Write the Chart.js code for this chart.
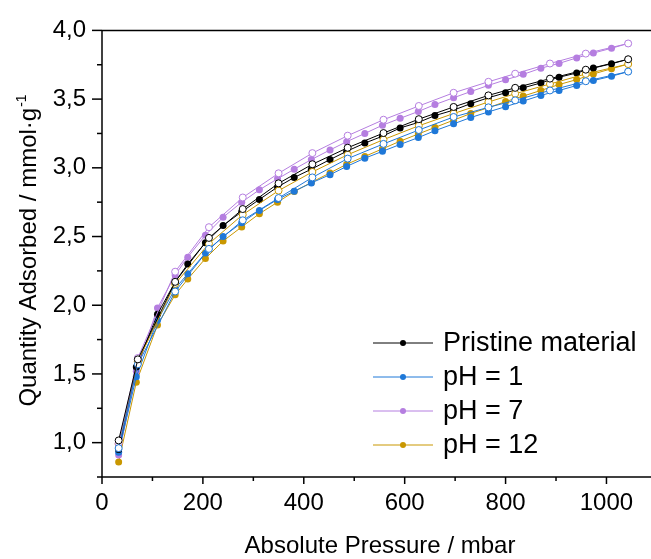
<!DOCTYPE html>
<html>
<head>
<meta charset="utf-8">
<script src="https://cdn.jsdelivr.net/npm/chart.js@4.4.1/dist/chart.umd.min.js"></script>
<style>
  html, body { margin: 0; padding: 0; background: #fff; overflow: hidden; }
  #wrap { width: 672px; height: 559px; }
</style>
</head>
<body>
<div id="wrap"><canvas id="isoChart" width="672" height="559"></canvas></div>
<script>
// Pressure points (mbar)
const adsPressure = [33, 68, 110, 145, 170, 205, 240, 277, 312, 348, 381, 415, 452, 485, 521,
  556, 591, 627, 660, 697, 731, 766, 800, 835, 870, 906, 941, 974, 1010, 1043];
const desPressure = [1043, 959, 888, 819, 766, 697, 628, 558, 487, 417, 350, 279, 212, 145, 71, 33];

// Quantity adsorbed (mmol/g) - adsorption branch (filled) and desorption branch (open)
const pristineAds = [0.95, 1.55, 1.935, 2.17, 2.30, 2.455, 2.58, 2.68, 2.77, 2.86, 2.93, 2.99, 3.06, 3.12, 3.18,
  3.23, 3.29, 3.33, 3.38, 3.42, 3.467, 3.51, 3.546, 3.582, 3.618, 3.659, 3.69, 3.726, 3.757, 3.79];
const pristineDes = [3.79, 3.714, 3.649, 3.582, 3.527, 3.443, 3.354, 3.253, 3.146, 3.026, 2.887, 2.70, 2.49, 2.17, 1.606, 1.016];

const ph1Ads = [0.93, 1.48, 1.89, 2.12, 2.23, 2.38, 2.50, 2.60, 2.69, 2.77, 2.83, 2.89, 2.95, 3.01, 3.07,
  3.12, 3.17, 3.22, 3.27, 3.32, 3.366, 3.407, 3.445, 3.486, 3.527, 3.563, 3.599, 3.635, 3.666, 3.70];
const ph1Des = [3.70, 3.63, 3.563, 3.491, 3.44, 3.37, 3.275, 3.174, 3.067, 2.93, 2.78, 2.618, 2.41, 2.10, 1.57, 0.96];

const ph7Ads = [0.91, 1.52, 1.98, 2.22, 2.35, 2.51, 2.64, 2.75, 2.84, 2.92, 2.99, 3.06, 3.13, 3.19, 3.25,
  3.31, 3.36, 3.41, 3.46, 3.51, 3.555, 3.60, 3.64, 3.68, 3.725, 3.76, 3.80, 3.835, 3.87, 3.905];
const ph7Des = [3.905, 3.831, 3.759, 3.685, 3.626, 3.546, 3.45, 3.35, 3.234, 3.107, 2.96, 2.784, 2.568, 2.244, 1.616, 0.995];

const ph12Ads = [0.86, 1.44, 1.856, 2.076, 2.19, 2.34, 2.467, 2.57, 2.666, 2.75, 2.827, 2.894, 2.963, 3.026, 3.083,
  3.138, 3.194, 3.246, 3.294, 3.347, 3.395, 3.438, 3.482, 3.522, 3.563, 3.606, 3.642, 3.683, 3.721, 3.755];
const ph12Des = [3.755, 3.683, 3.61, 3.539, 3.479, 3.395, 3.306, 3.205, 3.095, 2.97, 2.834, 2.659, 2.448, 2.155, 1.59, 0.99];

const seriesNames = ['Pristine material', 'pH = 1', 'pH = 7', 'pH = 12'];
const seriesColors = ['#000000', '#1f78d8', '#b57ee0', '#c99700'];

// Axis ticks
const xTicks = [0, 200, 400, 600, 800, 1000];
const xMinor = [100, 300, 500, 700, 900, 1100];
const yTicks = [1.0, 1.5, 2.0, 2.5, 3.0, 3.5, 4.0];
const yMinor = [0.75, 1.25, 1.75, 2.25, 2.75, 3.25, 3.75];

const FONT = "'Liberation Sans', Arial, sans-serif";

function pts(xs, ys) {
  return xs.map((x, i) => ({ x: x, y: ys[i] }));
}

const adsSets = [pristineAds, ph1Ads, ph7Ads, ph12Ads];
const desSets = [pristineDes, ph1Des, ph7Des, ph12Des];

let datasets = [];
adsSets.forEach((ys, i) => {
  datasets.push({
    label: seriesNames[i] + ' ads',
    data: pts(adsPressure, ys),
    showLine: true,
    borderColor: seriesColors[i],
    backgroundColor: seriesColors[i],
    borderWidth: 1,
    pointRadius: 3.5,
    pointBorderWidth: 0,
    pointBackgroundColor: seriesColors[i],
    order: 2
  });
});
desSets.forEach((ys, i) => {
  datasets.push({
    label: seriesNames[i] + ' des',
    data: pts(desPressure, ys),
    showLine: true,
    borderColor: seriesColors[i],
    backgroundColor: '#ffffff',
    borderWidth: 1,
    pointRadius: 3.5,
    pointBorderWidth: 1,
    pointBorderColor: seriesColors[i],
    pointBackgroundColor: '#ffffff',
    order: 1
  });
});

// Axes, ticks, titles and legend drawn on top
const decorations = {
  id: 'decorations',
  afterDraw(chart) {
    const { ctx, chartArea: a, scales: { x, y } } = chart;
    ctx.save();
    ctx.strokeStyle = '#000';
    ctx.lineWidth = 1.5;
    const seg = (x1, y1, x2, y2) => {
      ctx.beginPath(); ctx.moveTo(x1, y1); ctx.lineTo(x2, y2); ctx.stroke();
    };
    // frame: left, bottom, top
    seg(a.left, a.top, a.left, a.bottom);
    seg(a.left, a.bottom, a.right, a.bottom);
    seg(a.left, a.top, a.right, a.top);

    xTicks.forEach(v => { const px = x.getPixelForValue(v); seg(px, a.bottom, px, a.bottom + 7); });
    xMinor.forEach(v => { const px = x.getPixelForValue(v); seg(px, a.bottom, px, a.bottom + 4); });
    yTicks.forEach(v => { const py = y.getPixelForValue(v); seg(a.left - 10, py, a.left, py); });
    yMinor.forEach(v => { const py = y.getPixelForValue(v); seg(a.left - 5, py, a.left, py); });

    ctx.fillStyle = '#000';
    // x title
    ctx.font = '24px ' + FONT;
    ctx.textAlign = 'center';
    ctx.textBaseline = 'alphabetic';
    ctx.fillText('Absolute Pressure / mbar', 380, 553);

    // y title with superscript
    ctx.save();
    ctx.translate(36, 251);
    ctx.rotate(-Math.PI / 2);
    const main = 'Quantity Adsorbed / mmol\u00b7g';
    const sup = '-1';
    ctx.font = '24px ' + FONT;
    const wMain = ctx.measureText(main).width;
    ctx.font = '14px ' + FONT;
    const wSup = ctx.measureText(sup).width;
    const start = -(wMain + wSup) / 2;
    ctx.textAlign = 'left';
    ctx.font = '24px ' + FONT;
    ctx.fillText(main, start, 0);
    ctx.font = '14px ' + FONT;
    ctx.fillText(sup, start + wMain + 1, -10);
    ctx.restore();

    // legend
    ctx.font = '27px ' + FONT;
    ctx.textAlign = 'left';
    ctx.textBaseline = 'middle';
    seriesNames.forEach((name, i) => {
      const ly = 343 + i * 34;
      ctx.strokeStyle = seriesColors[i];
      ctx.lineWidth = 1;
      seg(373, ly, 433, ly);
      ctx.fillStyle = seriesColors[i];
      ctx.beginPath(); ctx.arc(403, ly, 3, 0, Math.PI * 2); ctx.fill();
      ctx.fillStyle = '#000';
      ctx.fillText(name, 443, ly + 1);
    });
    ctx.restore();
  }
};

Chart.defaults.color = '#000';
Chart.defaults.font.family = FONT;

const chart = new Chart(document.getElementById('isoChart').getContext('2d'), {
  type: 'scatter',
  data: { datasets: datasets },
  options: {
    responsive: false,
    animation: false,
    devicePixelRatio: 1,
    layout: { padding: { top: 25, left: 0, right: 0, bottom: 0 } },
    plugins: {
      legend: { display: false },
      tooltip: { enabled: false }
    },
    scales: {
      x: {
        type: 'linear',
        min: 0,
        max: 1120,
        grid: { display: false, drawTicks: false },
        border: { display: false },
        afterBuildTicks: s => { s.ticks = xTicks.map(v => ({ value: v })); },
        afterFit: s => { s.height = 82; },
        ticks: {
          font: { size: 24 },
          padding: 12,
          maxRotation: 0,
          autoSkip: false,
          callback: v => String(v)
        }
      },
      y: {
        type: 'linear',
        min: 0.75,
        max: 4.0,
        grid: { display: false, drawTicks: false },
        border: { display: false },
        afterBuildTicks: s => { s.ticks = yTicks.map(v => ({ value: v })); },
        afterFit: s => { s.width = 102; },
        ticks: {
          font: { size: 24 },
          padding: 16,
          autoSkip: false,
          callback: v => v.toFixed(1).replace('.', ',')
        }
      }
    }
  },
  plugins: [decorations]
});
</script>
</body>
</html>
